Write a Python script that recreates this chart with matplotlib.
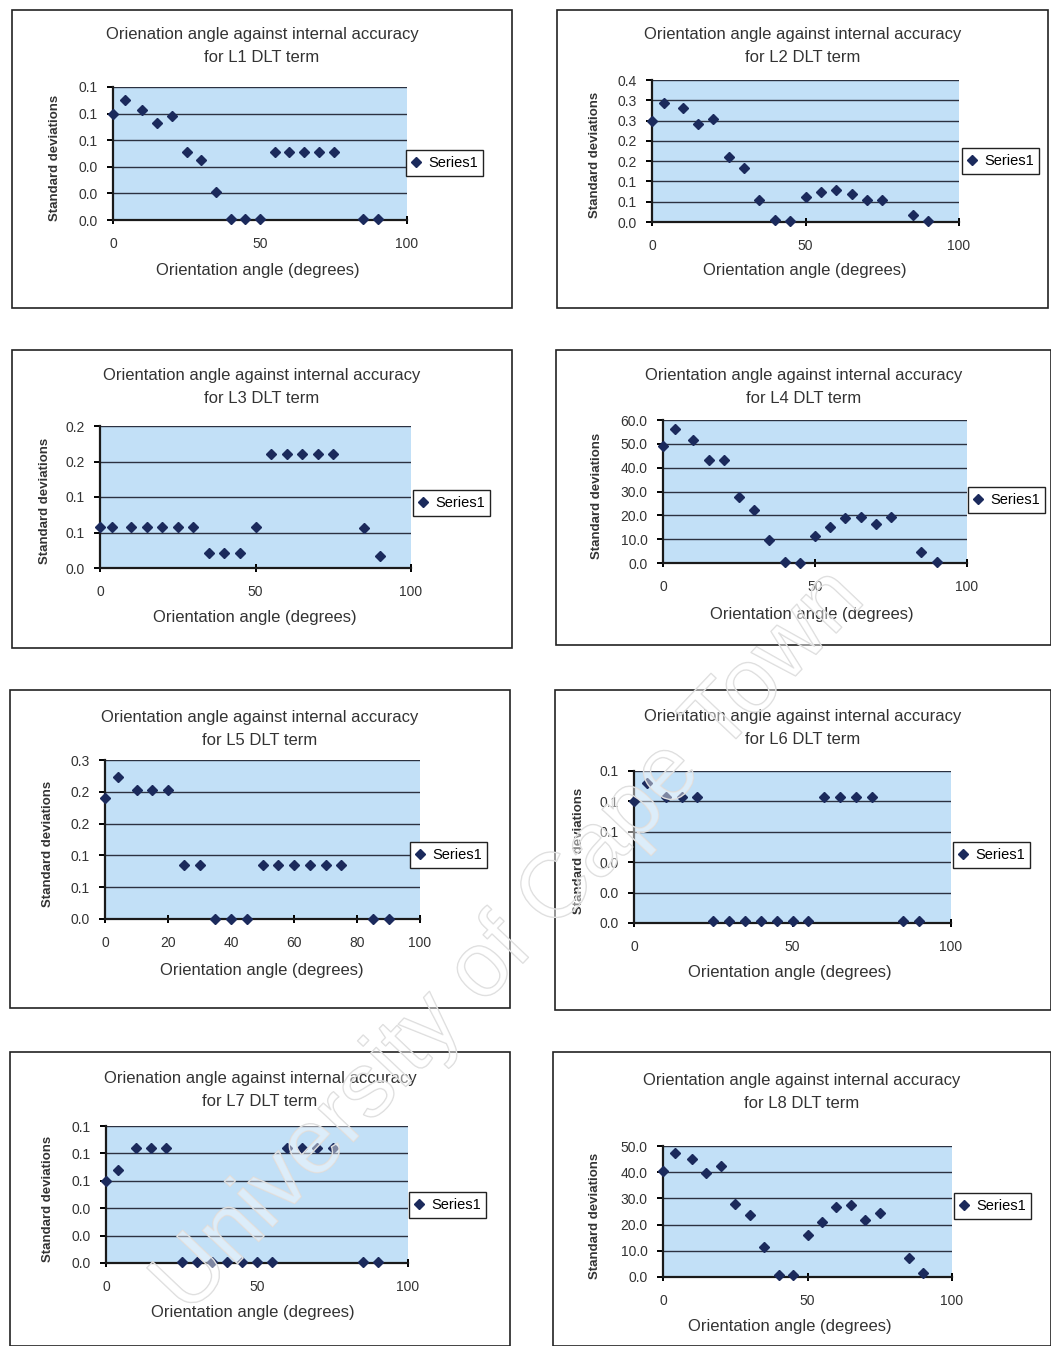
import matplotlib
matplotlib.use("Agg")
import matplotlib.pyplot as plt
import matplotlib.patheffects as pe
from matplotlib.lines import Line2D
from matplotlib.patches import Rectangle

plt.rcParams['font.family'] = ['Liberation Sans', 'DejaVu Sans']

W, H = 1051, 1346

# orientation angles (degrees), same for every DLT term
angles = [0, 4, 10, 15, 20, 25, 30, 35, 40, 45, 50, 55, 60, 65, 70, 75, 85, 90]

# standard deviations for each DLT term
sd_l1 = [0.080, 0.090, 0.083, 0.073, 0.078, 0.051, 0.045, 0.021, 0.001, 0.001,
         0.001, 0.051, 0.051, 0.051, 0.051, 0.051, 0.001, 0.001]
sd_l2 = [0.250, 0.294, 0.282, 0.241, 0.254, 0.161, 0.134, 0.055, 0.004, 0.003,
         0.062, 0.073, 0.080, 0.070, 0.054, 0.055, 0.017, 0.003]
sd_l3 = [0.058, 0.058, 0.058, 0.058, 0.058, 0.058, 0.058, 0.021, 0.021, 0.021,
         0.058, 0.161, 0.161, 0.161, 0.161, 0.161, 0.057, 0.017]
sd_l4 = [49.1, 56.1, 51.6, 43.3, 43.3, 27.5, 22.3, 9.8, 0.4, 0.0,
         11.4, 15.3, 18.8, 19.5, 16.5, 19.3, 4.5, 0.4]
sd_l5 = [0.190, 0.223, 0.203, 0.203, 0.203, 0.085, 0.085, 0.000, 0.000, 0.000,
         0.085, 0.085, 0.085, 0.085, 0.085, 0.085, 0.000, 0.000]
sd_l6 = [0.080, 0.092, 0.083, 0.083, 0.083, 0.001, 0.001, 0.001, 0.001, 0.001,
         0.001, 0.001, 0.083, 0.083, 0.083, 0.083, 0.001, 0.001]
sd_l7 = [0.060, 0.068, 0.084, 0.084, 0.084, 0.001, 0.001, 0.001, 0.001, 0.001,
         0.001, 0.001, 0.084, 0.084, 0.084, 0.084, 0.001, 0.001]
sd_l8 = [40.4, 47.2, 45.0, 39.7, 42.3, 27.7, 23.8, 11.3, 0.6, 0.6,
         16.0, 20.9, 26.7, 27.3, 21.9, 24.4, 7.4, 1.7]

# y axis ticks and the (one decimal) labels shown on them
yt_small = [0, 0.02, 0.04, 0.06, 0.08, 0.10]
yl_small = ["0.0", "0.0", "0.0", "0.1", "0.1", "0.1"]
yt_l2 = [0, 0.05, 0.10, 0.15, 0.20, 0.25, 0.30, 0.35]
yl_l2 = ["0.0", "0.1", "0.1", "0.2", "0.2", "0.3", "0.3", "0.4"]
yt_l3 = [0, 0.05, 0.10, 0.15, 0.20]
yl_l3 = ["0.0", "0.1", "0.1", "0.2", "0.2"]
yt_l4 = [0, 10, 20, 30, 40, 50, 60]
yl_l4 = ["0.0", "10.0", "20.0", "30.0", "40.0", "50.0", "60.0"]
yt_l5 = [0, 0.05, 0.10, 0.15, 0.20, 0.25]
yl_l5 = ["0.0", "0.1", "0.1", "0.2", "0.2", "0.3"]
yt_l8 = [0, 10, 20, 30, 40, 50]
yl_l8 = ["0.0", "10.0", "20.0", "30.0", "40.0", "50.0"]

xt_default = [0, 50, 100]
xt_l5 = [0, 20, 40, 60, 80, 100]

titles = ["Orienation angle against internal accuracy\nfor L1 DLT term",
          "Orientation angle against internal accuracy\nfor L2 DLT term",
          "Orientation angle against internal accuracy\nfor L3 DLT term",
          "Orientation angle against internal accuracy\nfor L4 DLT term",
          "Orientation angle against internal accuracy\nfor L5 DLT term",
          "Orientation angle against internal accuracy\nfor L6 DLT term",
          "Orienation angle against internal accuracy\nfor L7 DLT term",
          "Orientation angle against internal accuracy\nfor L8 DLT term"]

series = [sd_l1, sd_l2, sd_l3, sd_l4, sd_l5, sd_l6, sd_l7, sd_l8]
yticks = [yt_small, yt_l2, yt_l3, yt_l4, yt_l5, yt_small, yt_small, yt_l8]
ylabels = [yl_small, yl_l2, yl_l3, yl_l4, yl_l5, yl_small, yl_small, yl_l8]
xticks = [xt_default, xt_default, xt_default, xt_default, xt_l5,
          xt_default, xt_default, xt_default]

# layout in pixels: box (x0, y0, x1, y1), plot area (x0, y0, x1, y1),
# title centre y, x-label (x, y), y-label x, legend top-left (x, y)
layout = [
    dict(box=(12, 10, 512, 308), plot=(113, 87, 407, 220), ty=46, xl=(258, 270), yl=55, lg=(406, 150)),
    dict(box=(557, 10, 1048, 308), plot=(652, 80, 959, 222), ty=46, xl=(805, 270), yl=595, lg=(962, 148)),
    dict(box=(12, 350, 512, 648), plot=(100, 426, 411, 568), ty=387, xl=(255, 618), yl=45, lg=(413, 490)),
    dict(box=(556, 350, 1051, 645), plot=(663, 420, 967, 563), ty=387, xl=(812, 615), yl=597, lg=(968, 487)),
    dict(box=(10, 690, 510, 1008), plot=(105, 760, 420, 919), ty=729, xl=(262, 970), yl=48, lg=(410, 842)),
    dict(box=(555, 690, 1051, 1010), plot=(634, 771, 951, 923), ty=728, xl=(790, 972), yl=579, lg=(953, 842)),
    dict(box=(10, 1052, 510, 1346), plot=(106, 1126, 408, 1263), ty=1090, xl=(253, 1312), yl=48, lg=(409, 1192)),
    dict(box=(553, 1052, 1051, 1346), plot=(663, 1146, 952, 1277), ty=1092, xl=(790, 1326), yl=595, lg=(954, 1193)),
]

fill_blue = "#C2E0F7"
grid_col = "#2B3140"
marker_col = "#1B2A5C"
text_col = "#333333"

fig = plt.figure(figsize=(W / 100, H / 100), dpi=100)
fig.patch.set_facecolor("white")


def fx(px):
    return px / W


def fy(py):
    return 1 - py / H


for i in range(8):
    lay = layout[i]
    bx0, by0, bx1, by1 = lay["box"]
    fig.add_artist(Rectangle((fx(bx0), fy(by1)), fx(bx1) - fx(bx0), fy(by0) - fy(by1),
                             transform=fig.transFigure, fill=False,
                             edgecolor="#222222", linewidth=1.2))

    px0, py0, px1, py1 = lay["plot"]
    ax = fig.add_axes([fx(px0), fy(py1), fx(px1) - fx(px0), fy(py0) - fy(py1)])
    ax.set_facecolor(fill_blue)
    ax.plot(angles, series[i], linestyle="none", marker="D", markersize=5,
            color=marker_col, zorder=3, clip_on=False)
    ax.set_xlim(0, 100)
    ax.set_ylim(yticks[i][0], yticks[i][-1])
    ax.set_xticks(xticks[i])
    ax.set_xticklabels([str(v) for v in xticks[i]])
    ax.set_yticks(yticks[i])
    ax.set_yticklabels(ylabels[i])
    ax.yaxis.grid(True, color=grid_col, linewidth=1.0)
    ax.set_axisbelow(True)
    for s in ("top", "right"):
        ax.spines[s].set_visible(False)
    for s in ("left", "bottom"):
        ax.spines[s].set_color("#1A1A1A")
        ax.spines[s].set_linewidth(1.6)
    ax.tick_params(axis="y", direction="out", length=4, width=1.4, pad=7,
                   labelsize=10, labelcolor=text_col)
    ax.tick_params(axis="x", direction="inout", length=6, width=1.4, pad=9,
                   labelsize=10, labelcolor=text_col)

    fig.text(fx((bx0 + bx1) / 2), fy(lay["ty"]), titles[i], ha="center", va="center",
             fontsize=12, color=text_col, linespacing=1.6)
    fig.text(fx(lay["xl"][0]), fy(lay["xl"][1]), "Orientation angle (degrees)",
             ha="center", va="center", fontsize=12, color=text_col)
    fig.text(fx(lay["yl"]), fy((py0 + py1) / 2 + 4), "Standard deviations",
             ha="center", va="center", rotation=90, fontsize=9.5,
             fontweight="bold", color=text_col)

    handle = Line2D([], [], linestyle="none", marker="D", markersize=5, color=marker_col)
    fig.legend([handle], ["Series1"], loc="upper left",
               bbox_to_anchor=(fx(lay["lg"][0]), fy(lay["lg"][1])),
               frameon=True, fancybox=False, edgecolor="#222222", framealpha=1,
               fontsize=10.5, handlelength=0.6, handletextpad=0.5,
               borderpad=0.4, borderaxespad=0)

# faint diagonal watermark across the page
fig.text(0.485, 0.30, "University of Cape Town", rotation=46.5, ha="center", va="center",
         fontsize=66, color=(1, 1, 1, 0.25), zorder=10,
         path_effects=[pe.withStroke(linewidth=1.0, foreground="#dcdcdc")])

fig.savefig("out.png", dpi=100)
